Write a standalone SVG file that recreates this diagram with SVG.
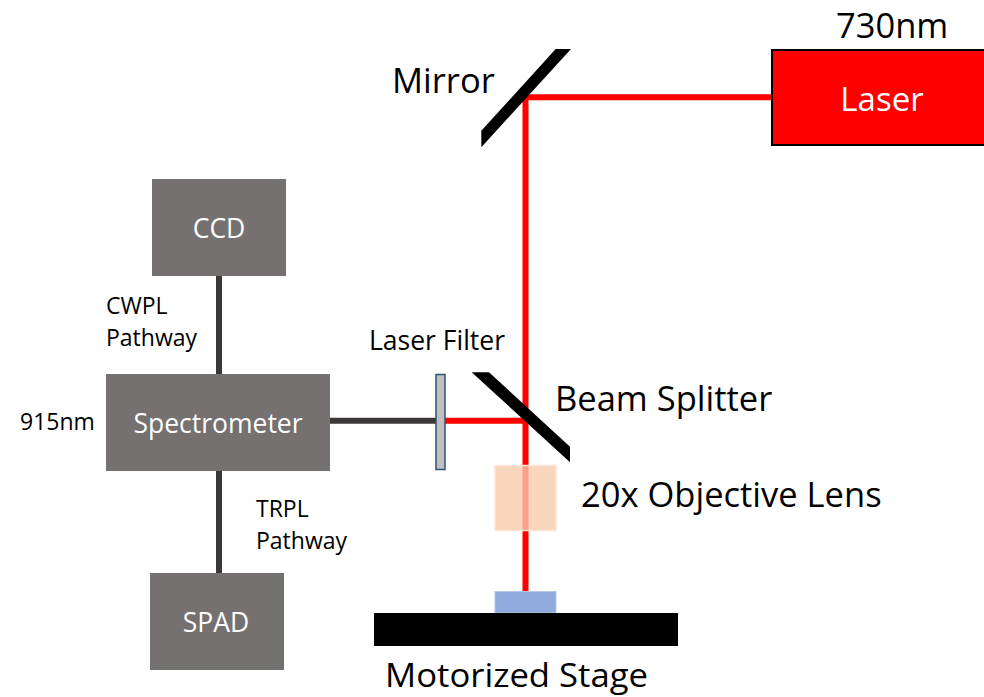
<svg xmlns="http://www.w3.org/2000/svg" width="984" height="697" viewBox="0 0 984 697">
<style>
text{font-family:"Open Sans","Noto Sans",sans-serif;fill:#000}
.box{fill:#767171}
.w{text-anchor:middle;font-size:26.500px}
g text.w{fill:#fff}
.l{font-size:23px}
.m{font-size:26.500px}
.b{font-size:34.500px}
.d{fill:none;stroke:#3b3838;stroke-width:6}
.r{fill:none;stroke:#f00;stroke-width:6}
</style>
<rect width="984" height="697" fill="#fff"/>
<g id="connectors">
<path class="d" d="M219 275V374M219 470V573M330 420.700H436"/>
<path class="r" d="M525.500 97.300H772M525.500 94.300V592M445 420.700H528.500"/>
</g>
<g id="mirror"><path d="M481.300 130.700L555.700 49H571L481.300 147.300Z" fill="#000"/><text class="b" x="392" y="93">Mirror</text></g>
<g id="laser"><rect x="772" y="50" width="218" height="95" fill="#f00" stroke="#000" stroke-width="2"/><text x="882" y="111" text-anchor="middle" font-size="33" style="fill:#fff">Laser</text><text class="b" x="836" y="38">730nm</text></g>
<g id="ccd"><rect class="box" x="152" y="179" width="134" height="97"/><text class="w" x="219" y="238">CCD</text></g>
<g id="spectrometer"><rect class="box" x="106" y="374" width="224" height="97"/><text class="w" x="218" y="433">Spectrometer</text></g>
<g id="spad"><rect class="box" x="150" y="573" width="134" height="97"/><text class="w" x="216" y="632">SPAD</text></g>
<g id="filter"><rect x="436" y="374.500" width="9" height="95" fill="#bfbfbf" stroke="#2f5270" stroke-width="1.500"/><text class="m" x="369" y="350">Laser Filter</text></g>
<g id="splitter"><path d="M471.700 372.300H489L570 446.700V462.300Z" fill="#000"/><text class="b" x="555" y="411">Beam Splitter</text></g>
<g id="objective"><rect x="495" y="465.500" width="61" height="65" fill="#f8caaa" fill-opacity=".79" stroke="#fbe5d6" stroke-width="1.500"/><text class="b" x="581" y="507">20x Objective Lens</text></g>
<g id="sample"><rect x="495" y="591.500" width="61" height="21.500" fill="#8faadc" stroke="#b4c7e7" stroke-width="1"/></g>
<g id="stage"><rect x="374" y="613" width="304" height="33" fill="#000"/><text x="385" y="687" font-size="33.500" textLength="263" lengthAdjust="spacingAndGlyphs">Motorized Stage</text></g>
<g id="labels"><text class="l" x="106" y="314">CWPL</text><text class="l" x="106" y="346">Pathway</text><text class="l" x="20" y="430">915nm</text><text class="l" x="256" y="517">TRPL</text><text class="l" x="256" y="549">Pathway</text></g>
</svg>
